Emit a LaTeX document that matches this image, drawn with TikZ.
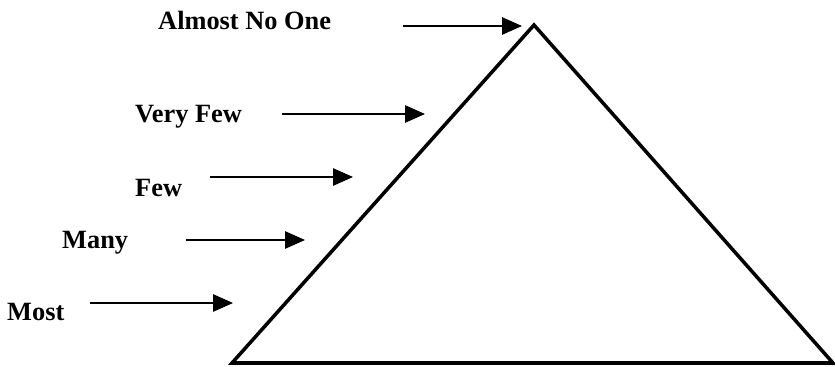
\documentclass[tikz,border=0pt]{standalone}
\usepackage{fontspec}
\setmainfont{Liberation Serif}
\usetikzlibrary{arrows.meta}

\begin{document}
\begin{tikzpicture}[
  x=0.03cm,y=-0.03cm,
  lbl/.style={anchor=west,inner sep=0pt,font=\bfseries\fontsize{22.5}{26}\selectfont},
  arr/.style={-{Triangle[length=0.6cm,width=0.52cm]},line width=1.5pt},
  pyr/.style={line width=3pt,line join=miter}
]
\useasboundingbox (0,0) rectangle (835,367);
% pyramid
\coordinate (apex) at (534,25);
\coordinate (bl) at (232,363);
\coordinate (br) at (833,363);
\draw[pyr] (apex) -- (bl) -- (br) -- cycle;
% labels
\node[lbl] (none) at (158,20) {Almost No One};
\node[lbl] (vfew) at (135,117) {Very Few};
\node[lbl] (few) at (135,188) {Few};
\node[lbl] (many) at (62,243) {Many};
\node[lbl] (most) at (7,312) {Most};
% arrow ends
\coordinate (noneS) at (403,26);  \coordinate (noneE) at (522,26);
\coordinate (vfewS) at (282,114); \coordinate (vfewE) at (425,114);
\coordinate (fewS) at (210,177);  \coordinate (fewE) at (353,177);
\coordinate (manyS) at (186,240); \coordinate (manyE) at (305,240);
\coordinate (mostS) at (90,303);  \coordinate (mostE) at (233,303);
\draw[arr] (noneS) -- (noneE);
\draw[arr] (vfewS) -- (vfewE);
\draw[arr] (fewS) -- (fewE);
\draw[arr] (manyS) -- (manyE);
\draw[arr] (mostS) -- (mostE);
\end{tikzpicture}
\end{document}
